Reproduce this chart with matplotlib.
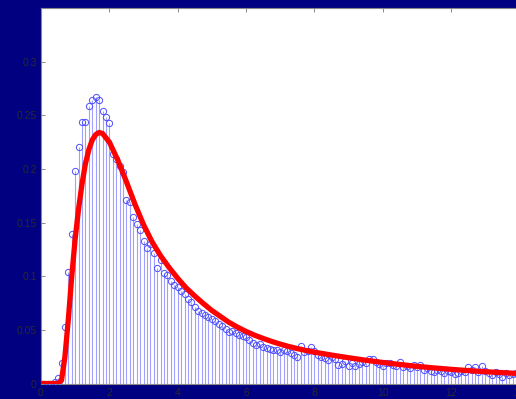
import numpy as np
import matplotlib
matplotlib.use("Agg")
import matplotlib.pyplot as plt

plt.rcParams['font.family'] = ['Liberation Sans', 'DejaVu Sans']

# histogram heights (one stem every 0.1 from 0 to 14)
hist_x = np.round(np.arange(0, 141) * 0.1, 1)
hist_y = [
    0.000, 0.000, 0.000, 0.000, 0.001, 0.005, 0.019, 0.053, 0.104, 0.139,
    0.198, 0.220, 0.244, 0.244, 0.259, 0.264, 0.267, 0.264, 0.254, 0.248,
    0.243, 0.214, 0.209, 0.203, 0.197, 0.171, 0.169, 0.155, 0.149, 0.143,
    0.133, 0.126, 0.130, 0.122, 0.108, 0.115, 0.103, 0.101, 0.096, 0.092,
    0.090, 0.086, 0.083, 0.079, 0.076, 0.071, 0.068, 0.066, 0.064, 0.062,
    0.060, 0.058, 0.055, 0.054, 0.051, 0.048, 0.049, 0.047, 0.045, 0.044,
    0.043, 0.041, 0.038, 0.036, 0.037, 0.034, 0.033, 0.032, 0.031, 0.031,
    0.029, 0.031, 0.030, 0.028, 0.027, 0.025, 0.035, 0.029, 0.030, 0.034,
    0.030, 0.027, 0.025, 0.024, 0.022, 0.025, 0.023, 0.017, 0.018, 0.021,
    0.016, 0.019, 0.016, 0.018, 0.020, 0.019, 0.023, 0.023, 0.020, 0.018,
    0.016, 0.019, 0.019, 0.017, 0.016, 0.020, 0.015, 0.016, 0.014, 0.017,
    0.015, 0.017, 0.013, 0.014, 0.012, 0.011, 0.013, 0.012, 0.010, 0.012,
    0.011, 0.009, 0.010, 0.012, 0.011, 0.015, 0.013, 0.015, 0.011, 0.016,
    0.012, 0.010, 0.008, 0.011, 0.009, 0.006, 0.010, 0.008, 0.009, 0.010,
    0.008,
]

# fitted density curve
fit_x = [0.0, 0.5, 0.6, 0.7, 0.8, 0.9, 1.0, 1.1, 1.2, 1.3, 1.4, 1.5, 1.6,
         1.7, 1.8, 1.9, 2.0, 2.25, 2.5, 2.75, 3.0, 3.25, 3.5, 3.75, 4.0,
         4.25, 4.5, 4.75, 5.0, 5.25, 5.5, 5.75, 6.0, 6.25, 6.5, 6.75, 7.0,
         7.25, 7.5, 7.75, 8.0, 8.5, 9.0, 9.5, 10.0, 10.5, 11.0, 11.5, 12.0,
         12.5, 13.0, 13.5, 14.0]
fit_y = [0.0, 0.0, 0.003, 0.025, 0.060, 0.100, 0.135, 0.163, 0.186, 0.205,
         0.218, 0.227, 0.232, 0.234, 0.233, 0.229, 0.225, 0.208, 0.188,
         0.167, 0.148, 0.132, 0.119, 0.108, 0.098, 0.089, 0.0815, 0.0745,
         0.068, 0.0625, 0.057, 0.0525, 0.0485, 0.045, 0.042, 0.0392, 0.0367,
         0.0345, 0.0325, 0.0308, 0.0292, 0.0265, 0.0240, 0.0217, 0.0196,
         0.0177, 0.0160, 0.0145, 0.0132, 0.0120, 0.0110, 0.0101, 0.0093]

fig = plt.figure(figsize=(5.16, 3.99), dpi=100, facecolor='#000080')
ax = fig.add_axes([41 / 516, 1 - 383.5 / 399, 478.5 / 516, 375.5 / 399])
ax.set_facecolor('white')

ax.vlines(hist_x, 0, hist_y, colors='#a0a0ff', linewidth=0.8, zorder=2)
ax.plot(hist_x, hist_y, 'o', markersize=4.5, markerfacecolor='none',
        markeredgecolor='#4f4fff', markeredgewidth=0.7, zorder=3)
ax.plot(fit_x, fit_y, '-', color='#ff0000', linewidth=3.8,
        solid_capstyle='round', solid_joinstyle='round', zorder=4)

ax.set_xlim(0, 14)
ax.set_ylim(0, 0.35)
ax.set_xticks(np.arange(0, 15, 2))
ax.set_yticks([0, 0.05, 0.1, 0.15, 0.2, 0.25, 0.3])
ax.set_yticklabels(['0', '0.05', '0.1', '0.15', '0.2', '0.25', '0.3'])
ax.tick_params(direction='in', length=3, width=0.6, colors='#777777',
               labelcolor='#2a2a2a', labelsize=7.5, top=True, right=True, pad=3)
for s in ax.spines.values():
    s.set_color('#888888')
    s.set_linewidth(0.8)

fig.savefig('out.png', dpi=100, facecolor=fig.get_facecolor())
